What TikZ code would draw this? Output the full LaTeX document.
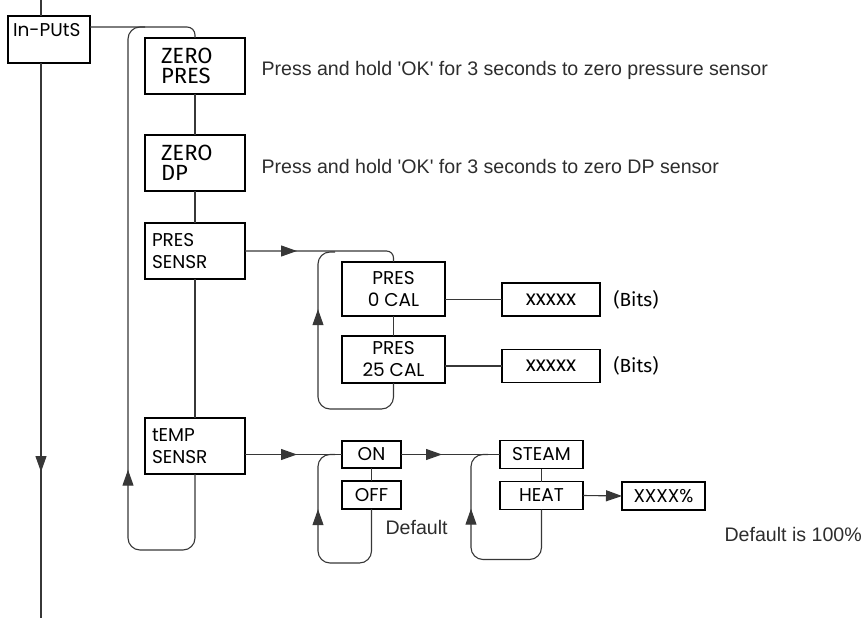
\documentclass[tikz,border=0pt]{standalone}
\usepackage{fontspec}
\setmainfont{Liberation Sans}
\newfontfamily\menufont{Poppins}
\newfontfamily\segfont{Fira Sans}
\usetikzlibrary{positioning,arrows.meta,decorations.markings}
\definecolor{wiregray}{RGB}{55,55,55}
\definecolor{notegray}{RGB}{45,45,45}

\begin{document}
\begin{tikzpicture}[x=1pt,y=-1pt,>={Triangle[length=16pt,width=11pt]},
    box/.style={draw=black,line width=1.2pt,inner sep=0pt,outer sep=0pt,
      font=\menufont\fontsize{18.5}{22}\selectfont},
    lbox/.style={box,minimum width=100pt,minimum height=56pt,align=left,text width=86pt},
    zbox/.style={lbox,text width=68pt,font=\segfont\fontsize{22}{20}\selectfont},
    cbox/.style={box,align=center},
    note/.style={anchor=base west,text=notegray,font=\fontsize{19.6}{24}\selectfont},
    bits/.style={anchor=west,font=\segfont\fontsize{19}{22}\selectfont},
    wire/.style={draw=wiregray,line width=1.1pt},
    arrat/.style={postaction={decorate},
      decoration={markings,mark=at position #1 with {\arrow{>}}}}]
  \useasboundingbox (0,0) rectangle (862,620);

  % main menu column
  \node[box,anchor=north west,minimum width=82pt,text width=72pt,align=left,
    text height=21pt,text depth=26pt,inner xsep=5pt] (inp) at (8,16) {In-PUtS};
  \node[zbox] (zp) at (195,66) {ZERO\\PRES};
  \node[zbox,line width=1.6pt,below=41pt of zp] (zdp) {ZERO\\DP};
  \node[lbox,below=32pt of zdp] (psens) {PRES\\SENSR};
  \node[lbox,below=139pt of psens] (tsens) {tEMP\\SENSR};

  \node[note] (zpnote) at (258,76) {Press and hold \textquotesingle OK\textquotesingle{} for 3 seconds to zero pressure sensor};
  \node[note] (zdpnote) at (258,174) {Press and hold \textquotesingle OK\textquotesingle{} for 3 seconds to zero DP sensor};

  % pressure calibration
  \node[cbox,minimum width=103pt,minimum height=54pt] (p0) at (393.5,289) {PRES\\0 CAL};
  \node[cbox,minimum width=103pt,minimum height=47pt,below=20pt of p0] (p25) {PRES\\25 CAL};
  \node[cbox,minimum width=98pt,minimum height=33pt,font=\menufont\fontsize{21}{22}\selectfont] (xb0) at (551,299.5) {xxxxx};
  \node[cbox,minimum width=98pt,minimum height=33pt,font=\menufont\fontsize{21}{22}\selectfont] (xb25) at (551,366) {xxxxx};
  \node[bits,right=10pt of xb0] (bits0) {(Bits)};
  \node[bits,right=10pt of xb25] (bits25) {(Bits)};

  % temperature sensor
  \node[cbox,minimum width=59pt,minimum height=27pt] (on) at (371.5,454.5) {ON};
  \node[cbox,minimum width=59pt,minimum height=28pt,below=13pt of on] (off) {OFF};
  \node[note] (dflt) at (382,534) {Default};
  \node[cbox,minimum width=83pt,minimum height=28pt] (steam) at (541.5,454.5) {STEAM};
  \node[cbox,minimum width=83pt,minimum height=28pt,below=13pt of steam] (heat) {HEAT};
  \node[cbox,minimum width=83pt,minimum height=28pt] (pct) at (663.5,496) {XXXX\%};
  \node[note] (pctnote) at (721,541) {Default is 100\%};

  % connectors
  \coordinate (top) at (41,0);
  \coordinate (bot) at (41,618);
  \draw[wire] (top) -- (top |- inp.north);
  \draw[wire,arrat=409pt] (bot |- inp.south) -- (bot);
  \draw[wire,rounded corners=8pt] ([yshift=-11pt]inp.north east) -| (zp.north);
  \draw[wire] (zp.south) -- (zdp.north);
  \draw[wire] (zdp.south) -- (psens.north);
  \draw[wire] (psens.south) -- (tsens.north);
  \draw[wire,rounded corners=12pt,arrat=213pt] (tsens.south) -- ++(0,76) -| (128,27) -- (145,27);

  \draw[wire,rounded corners=7pt,arrat=52pt] (psens.east) -| (p0.north);
  \draw[wire] (p0.south) -- (p25.north);
  \draw[wire,rounded corners=12pt,arrat=191pt] (p25.south) -- ++(0,26) -| (318,252) -- (335,252);
  \draw[wire] (xb0.west -| p0.east) -- (xb0.west);
  \draw[wire] (xb25.west -| p25.east) -- (xb25.west);

  \draw[wire,arrat=52pt] (on.west -| tsens.east) -- (on.west);
  \draw[wire] (on.south) -- (off.north);
  \draw[wire,rounded corners=12pt,arrat=151pt] (off.south) -- ++(0,54) -| (318,454.5) -- (335,454.5);
  \draw[wire,arrat=41pt] (on.east) -- (steam.west);
  \draw[wire] (steam.south) -- (heat.north);
  \draw[wire,rounded corners=12pt,arrat=161pt] (heat.south) -- ++(0,50) -| (471,454.5) -- (488,454.5);
  \draw[wire,->] (heat.east) -- (pct.west);
\end{tikzpicture}
\end{document}
